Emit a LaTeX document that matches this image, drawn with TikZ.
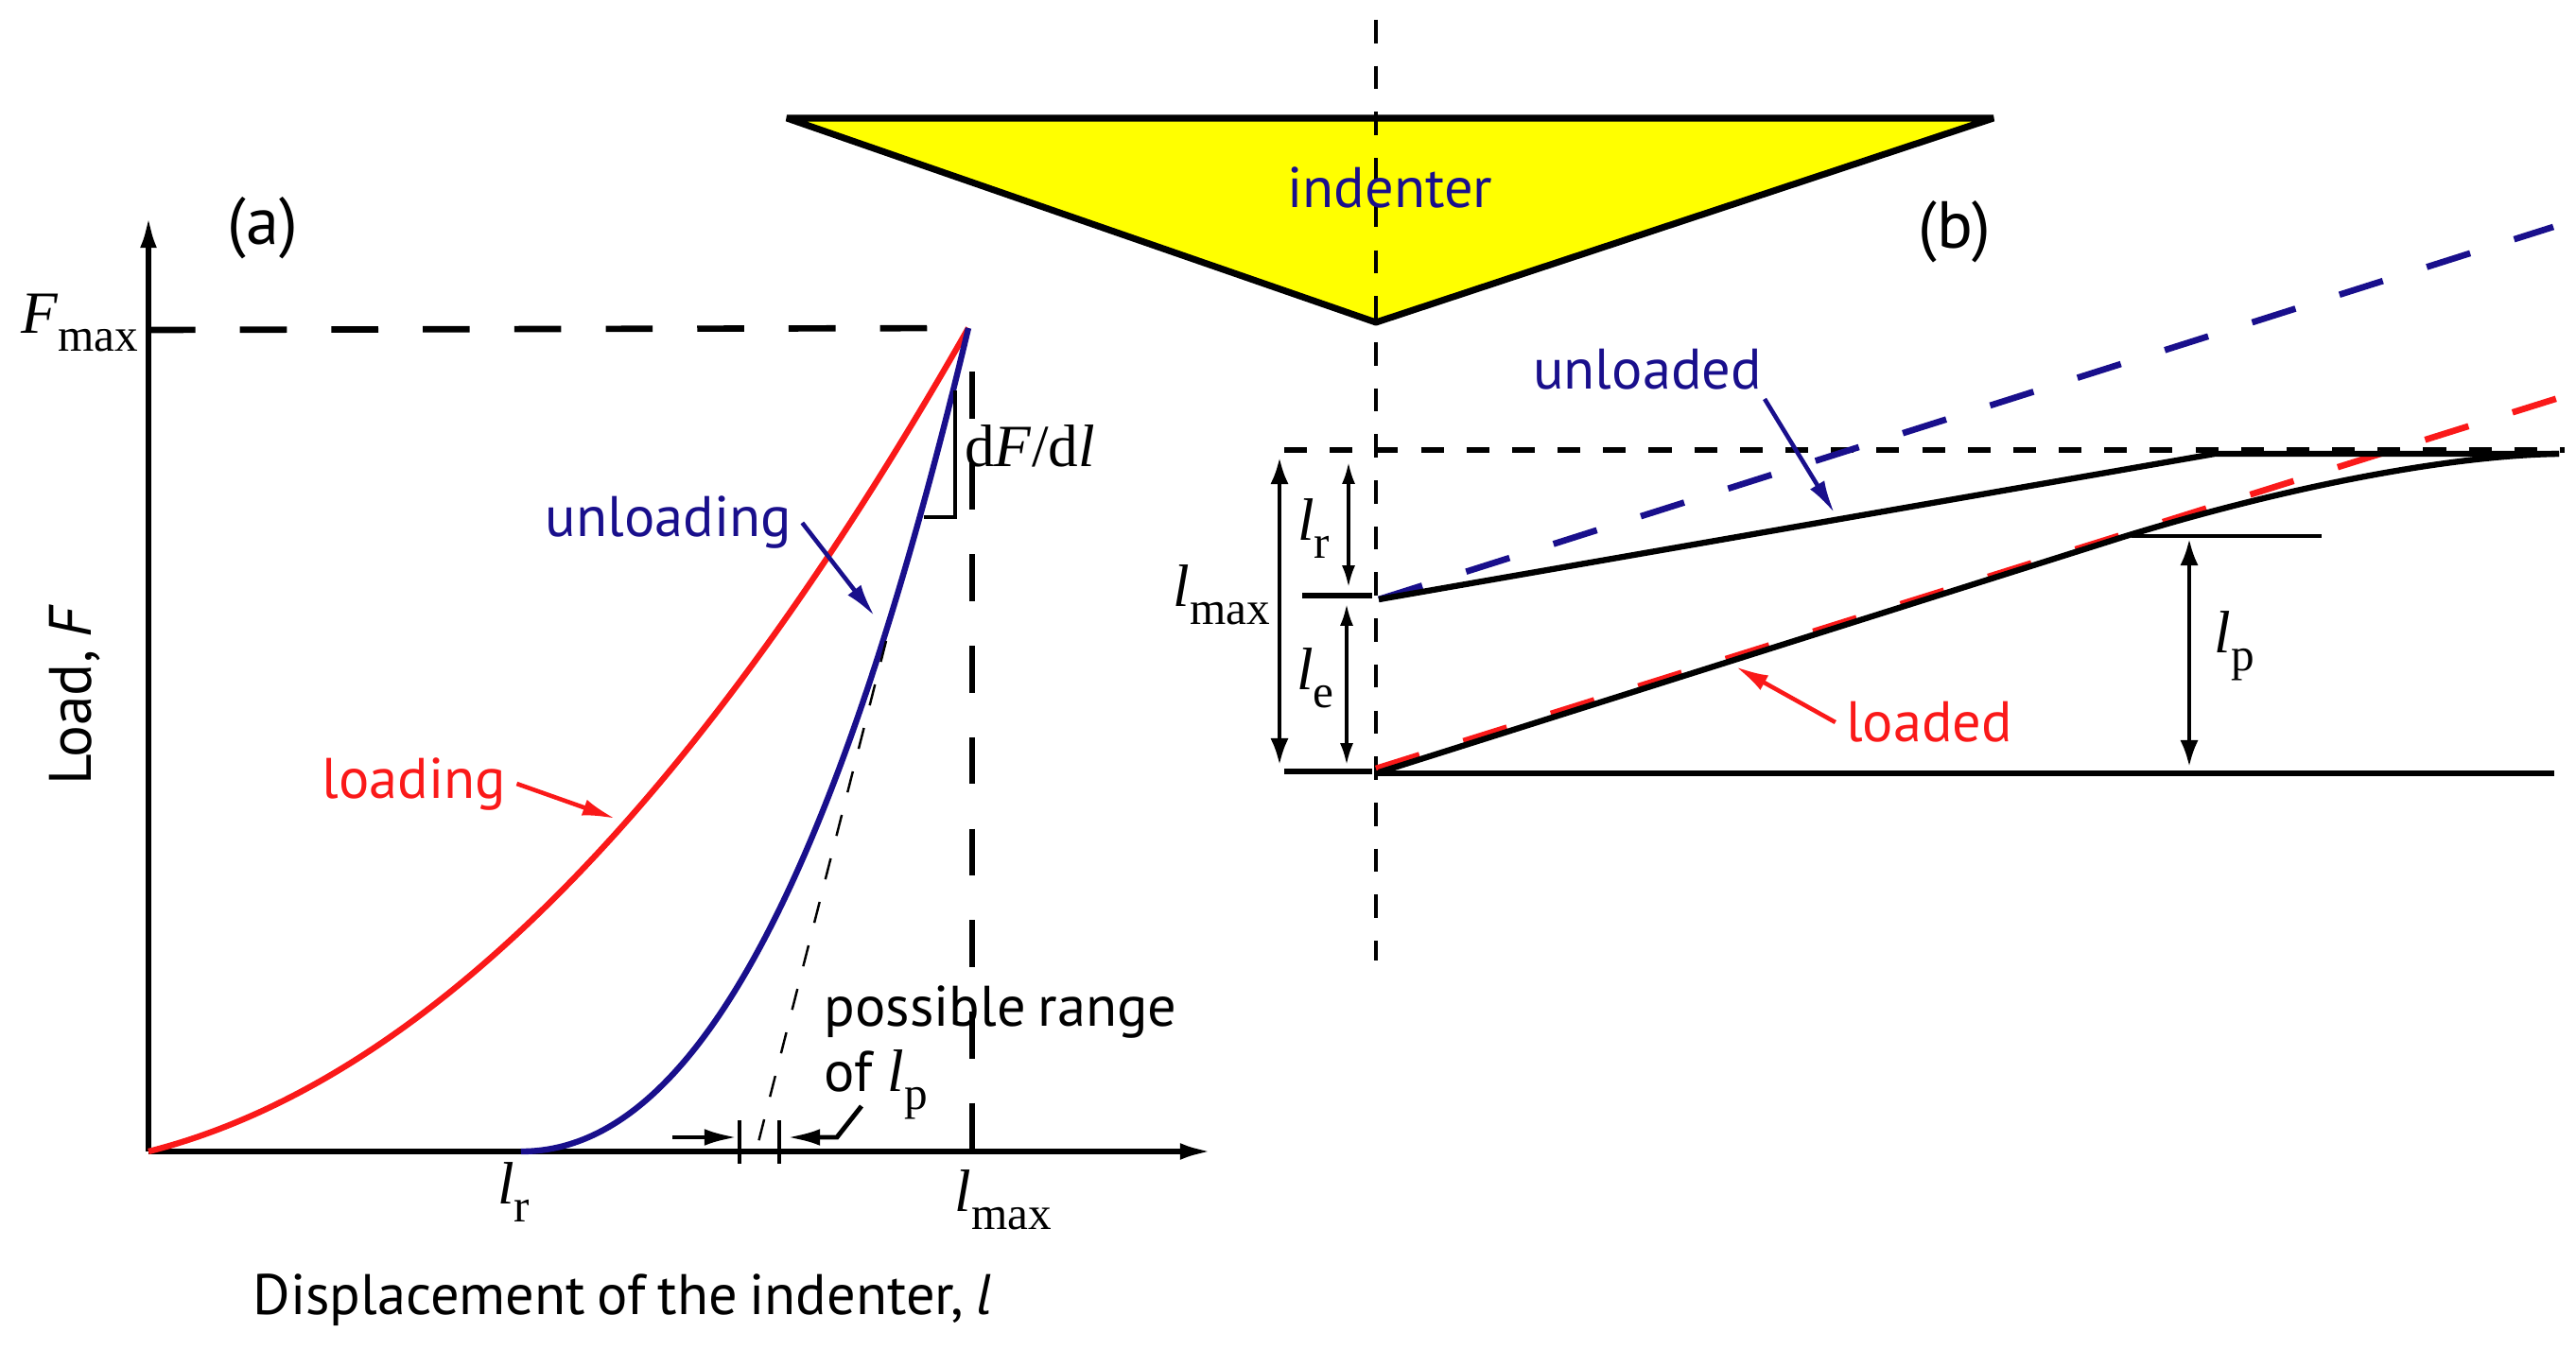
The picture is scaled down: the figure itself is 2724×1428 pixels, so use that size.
\documentclass[tikz,border=0pt]{standalone}
\usepackage{fontspec}
\setmainfont{PT Sans}
\newfontfamily\timesfont{Liberation Serif}
\usetikzlibrary{calc}
\usetikzlibrary{arrows.meta}
\tikzset{>={Latex[length=10pt,width=5pt]}}
\definecolor{curvered}{RGB}{250,25,25}
\definecolor{curveblue}{RGB}{25,15,140}
\definecolor{indenteryellow}{RGB}{255,255,0}
\newcommand{\maththing}[2]{{\timesfont\fontsize{18}{20}\selectfont\textit{#1}\raisebox{-0.3em}{\fontsize{14}{16}\selectfont #2}}}
\newcommand{\tightwords}{\spaceskip=0.21em\relax}
\tikzset{label/.style = {font=\fontsize{17.2}{20}\selectfont, inner sep=3pt},
panel/.style = {font=\fontsize{20}{22}\selectfont, inner sep=3pt},
solidline/.style = {line width=1.8pt},
curveline/.style = {line width=1.8pt},
heavydash/.style = {line width=1.9pt, dash pattern=on 14.1pt off 13.4pt},
shortdash/.style = {line width=1.9pt, dash pattern=on 6.85pt off 6.85pt},
slantdash/.style = {line width=1.9pt, dash pattern=on 13.7pt off 13.85pt},
centerdash/.style = {line width=1.1pt, dash pattern=on 7pt off 6.85pt},
tangentdash/.style = {line width=0.7pt, dash pattern=on 6.5pt off 7pt},
sizearrow/.style = {{Latex[length=6.5pt,width=4pt]}-{Latex[length=6.5pt,width=4pt]}, line width=0.9pt},
widearrow/.style = {{Latex[length=8pt,width=5.5pt]}-{Latex[length=8pt,width=5.5pt]}, line width=1.2pt}}

\begin{document}
\begin{tikzpicture}[x=0.01cm, y=-0.01cm]
                \useasboundingbox (0,0) rectangle (2724,1428);

                % panel a
                \coordinate (O) at (157,1218);
                \coordinate (Ytop) at (157,227);
                \coordinate (Xend) at (1283,1218);
                \coordinate (Tip) at (1024,347);
                \coordinate (Fleft) at (157,349);
                \coordinate (Lr) at (551,1218);
                \coordinate (Lmaxfoot) at (1028,1218);
                \coordinate (Lmaxtop) at (1028,393);

                \node[panel] (a) at (278,241) {(a)};
                \node[label, font=\fontsize{18}{20}\selectfont, rotate=90] (load) at (79,735) {\tightwords Load, \textit{F}};
                \node[label] (disp) at (658,1375) {\tightwords Displacement of the indenter, \textit{l}};
                \node[label, inner sep=0pt] (fmax) at (84,342) {\maththing{F}{max}};
                \node[label, inner sep=0pt] (lra) at (543,1261) {\maththing{l}{r}};
                \node[label, inner sep=0pt] (lmaxa) at (1061,1269) {\maththing{l}{max}};
                \node[label, inner sep=0pt] (slope) at (1089,472) {{\timesfont\fontsize{18}{20}\selectfont d\textit{F}/d\textit{l}}};
                \node[label, text=curveblue] (unloading) at (707,553) {unloading};
                \node[label, text=curvered] (loading) at (438,829) {loading};
                \node[label, anchor=west, inner sep=0pt] (range) at (871,1070) {\tightwords possible range};
                \node[label, anchor=west, inner sep=0pt] (of) at (871,1147) {of \maththing{l}{p}};

                \draw[heavydash] (Fleft) -- (Tip);
                \draw[heavydash] (Lmaxtop) -- (Lmaxfoot);
                \draw[solidline, ->] (O) -- (Ytop);
                \draw[solidline, ->] (O) -- (Xend);
                \draw[curvered, curveline] (O) .. controls (446,1145) and (735,855) .. (Tip);
                \draw[curveblue, curveline] (Lr) .. controls (709,1218) and (866,1009) .. (Tip);

                % slope triangle and tangent
                \coordinate (Tria) at (1010,413);
                \coordinate (Trib) at (1010,547);
                \coordinate (Tric) at (977,547);
                \coordinate (Tana) at (937,678);
                \coordinate (Tanb) at (801,1212);
                \draw[line width=1.2pt] (Tria) -- (Trib) -- (Tric);
                \draw[tangentdash] (Tana) -- (Tanb);

                \coordinate (Unltip) at (925,652);
                \coordinate (Lotip) at (651,866);
                \draw[curveblue, line width=1.3pt, ->] (unloading.east) -- (Unltip);
                \draw[curvered, line width=1.3pt, ->] (loading.east) -- (Lotip);

                % possible range marks
                \coordinate (Ticka) at (782,1185);
                \coordinate (Tickb) at (782,1231);
                \coordinate (Tickc) at (824,1185);
                \coordinate (Tickd) at (824,1231);
                \coordinate (Rna) at (711,1203);
                \coordinate (Rnb) at (780,1203);
                \coordinate (Rnc) at (911,1170);
                \coordinate (Rnd) at (885,1203);
                \coordinate (Rne) at (832,1203);
                \draw[line width=1pt] (Ticka) -- (Tickb);
                \draw[line width=1pt] (Tickc) -- (Tickd);
                \draw[line width=1.4pt, ->] (Rna) -- (Rnb);
                \draw[line width=1.4pt, ->] (Rnc) -- (Rnd) -- (Rne);

                % panel b
                \coordinate (Ina) at (832,125);
                \coordinate (Inb) at (2108,125);
                \coordinate (Inc) at (1455,341);
                \coordinate (Cta) at (1455,21);
                \coordinate (Ctb) at (1455,1016);
                \filldraw[fill=indenteryellow, line width=2pt, line join=bevel] (Ina) -- (Inb) -- (Inc) -- cycle;
                \draw[centerdash] (Cta) -- (Ctb);

                \node[label, text=curveblue] (indenter) at (1470,198) {indenter};
                \node[panel] (b) at (2067,245) {(b)};
                \node[label, text=curveblue] (unloaded) at (1742,391) {unloaded};
                \node[label, text=curvered] (loaded) at (2040,764) {loaded};
                \node[label, inner sep=0pt] (lmaxb) at (1292,629) {\maththing{l}{max}};
                \node[label, inner sep=0pt] (lrb) at (1389,559) {\maththing{l}{r}};
                \node[label, inner sep=0pt] (leb) at (1391,717) {\maththing{l}{e}};
                \node[label, inner sep=0pt] (lpb) at (2363,683) {\maththing{l}{p}};

                \coordinate (Topa) at (1358,476);
                \coordinate (Topb) at (2712,476);
                \coordinate (Ula) at (1458,634);
                \coordinate (Ulb) at (2342,480);
                \coordinate (Ulc) at (2706,480);
                \coordinate (Lda) at (1458,817);
                \coordinate (Ldb) at (2245,568);
                \coordinate (Bsa) at (1455,818);
                \coordinate (Bsb) at (2701,818);
                \coordinate (Thina) at (2254,567);
                \coordinate (Thinb) at (2455,567);
                \coordinate (Bluea) at (1458,634);
                \coordinate (Blueb) at (2700,240);
                \coordinate (Reda) at (1455,813);
                \coordinate (Redb) at (2715,418);
                \coordinate (Tka) at (1377,630);
                \coordinate (Tkb) at (1451,630);
                \coordinate (Tkc) at (1358,816);
                \coordinate (Tkd) at (1451,816);

                \draw[shortdash] (Topa) -- (Topb);
                \draw[curveblue, slantdash] (Bluea) -- (Blueb);
                \draw[curvered, slantdash] (Reda) -- (Redb);
                \draw[solidline] (Ula) -- (Ulb) -- (Ulc);
                \draw[solidline] (Lda) -- (Ldb) .. controls (2400,520) and (2580,482) .. (Ulc);
                \draw[solidline] (Bsa) -- (Bsb);
                \draw[line width=1.1pt] (Thina) -- (Thinb);
                \draw[solidline] (Tka) -- (Tkb);
                \draw[solidline] (Tkc) -- (Tkd);

                \coordinate (Ma) at (1353,484);
                \coordinate (Mb) at (1353,809);
                \coordinate (Ra) at (1426,489);
                \coordinate (Rb) at (1426,621);
                \coordinate (Ea) at (1424,639);
                \coordinate (Eb) at (1424,809);
                \coordinate (Pa) at (2315,570);
                \coordinate (Pb) at (2315,811);
                \draw[widearrow] (Ma) -- (Mb);
                \draw[sizearrow] (Ra) -- (Rb);
                \draw[sizearrow] (Ea) -- (Eb);
                \draw[widearrow] (Pa) -- (Pb);

                \coordinate (Ultail) at (1866,422);
                \coordinate (Ulhead) at (1940,543);
                \coordinate (Ldhead) at (1835,705);
                \draw[curveblue, line width=1.3pt, ->] (Ultail) -- (Ulhead);
                \draw[curvered, line width=1.3pt, ->] (loaded.west) -- (Ldhead);
            \end{tikzpicture}
\end{document}
